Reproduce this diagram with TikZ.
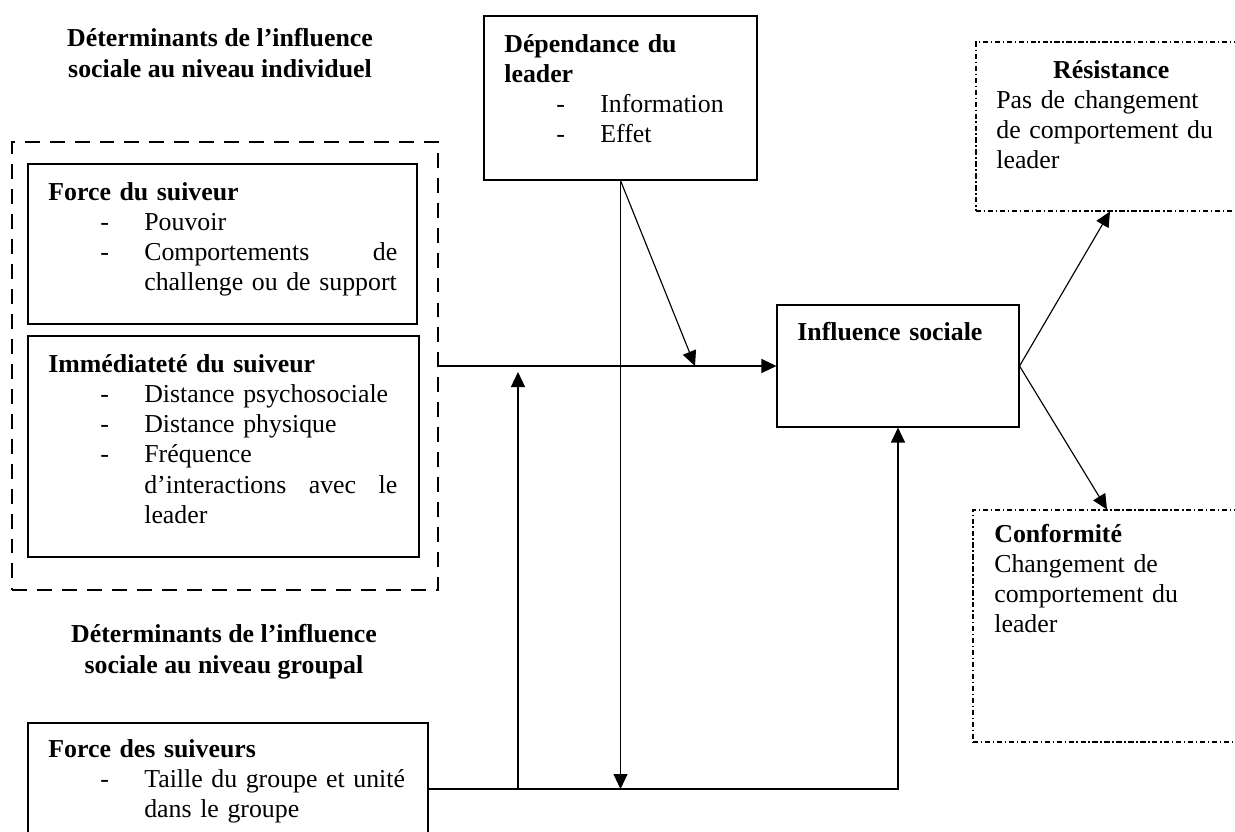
\documentclass[tikz,border=0pt]{standalone}
\usepackage{fontspec}
\setmainfont{Liberation Serif}
\usetikzlibrary{arrows.meta,fit}
\newcommand{\tiret}{\hspace*{1.04cm}\makebox[0.88cm][l]{-}}
\newcommand{\suite}{\hspace*{1.92cm}}

\begin{document}
\begin{tikzpicture}[x=0.02cm,y=-0.02cm,
    boite/.style={draw,line width=0.6pt,inner sep=0pt},
    cadre/.style={boite,line width=1.2pt,dash pattern=on 8.5pt off 5.7pt},
    issue/.style={boite,dash pattern=on 3pt off 1.5pt on 0.8pt off 1.5pt},
    texte/.style={anchor=base west,inner sep=0pt,align=left,text width=10cm,font=\fontsize{14.7}{17.25}\selectfont},
    titre/.style={anchor=base,inner sep=0pt,align=center,font=\fontsize{14.7}{17.25}\selectfont\bfseries},
    fleche/.style={line width=0.65pt,-{Triangle[length=0.3cm,width=0.28cm]}}]
    \clip (0,0) rectangle (1235,832);
    %Les cadres
    \node[cadre,fit={(12,142) (438,590)}] (indiv) {};
    \node[boite,fit={(28,164) (417,324)}] (force) {};
    \node[boite,fit={(28,336) (419,557)}] (immed) {};
    \node[boite,fit={(484,16) (757,180)}] (dep) {};
    \node[boite,fit={(777,305) (1019,427)}] (infl) {};
    \node[issue,fit={(976,42) (1244,211)}] (res) {};
    \node[issue,fit={(973,510) (1241,742)}] (conf) {};
    \node[boite,fit={(28,723) (428,855)}] (groupe) {};
    %Les textes
    \node[titre] (h1) at (220,77) {D\'eterminants de l’influence\\sociale au niveau individuel};
    \node[titre] (h2) at (224,673) {D\'eterminants de l’influence\\sociale au niveau groupal};
    \node[texte] (tforce) at (48,200) {\textbf{Force du suiveur}\\
        \tiret Pouvoir\\ \tiret\makebox[5.06cm][l]{Comportements\hfill de}\\ \suite challenge ou de support};
    \node[texte] (timmed) at (48,372) {\textbf{Imm\'ediatet\'e du suiveur}\\
        \tiret Distance psychosociale\\ \tiret Distance physique\\ \tiret Fr\'equence\\
        \suite\makebox[5.06cm][l]{d’interactions\hfill avec\hfill le}\\ \suite leader};
    \node[texte] (tgroupe) at (48,757) {\textbf{Force des suiveurs}\\
        \tiret Taille du groupe et unit\'e\\ \suite dans le groupe};
    \node[texte] (tdep) at (504,52) {\textbf{D\'ependance du}\\
        \textbf{leader}\\ \tiret Information\\ \tiret Effet};
    \node[texte] (tinfl) at (797,340) {\textbf{Influence sociale}};
    \node[texte] (tres) at (996,78) {\makebox[4.6cm]{\textbf{R\'esistance}}\\
        Pas de changement\\ de comportement du\\ leader};
    \node[texte] (tconf) at (994,542) {\textbf{Conformit\'e}\\
        Changement de\\ comportement du\\ leader};
    %Les fleches
    \coordinate (mod1) at (695,366);
    \coordinate (pied) at (518,789);
    \coordinate (mod2) at (518,372);
    \draw[fleche] (indiv.east) -- (infl.west);
    \draw[fleche] (dep.south) -- (mod1);
    \draw[fleche] (dep.south) -- (dep.south |- groupe.east);
    \draw[fleche] (groupe.east) -| (infl.south);
    \draw[fleche] (pied) -- (mod2);
    \draw[fleche] (infl.east) -- (res.south);
    \draw[fleche] (infl.east) -- (conf.north);
\end{tikzpicture}
\end{document}
